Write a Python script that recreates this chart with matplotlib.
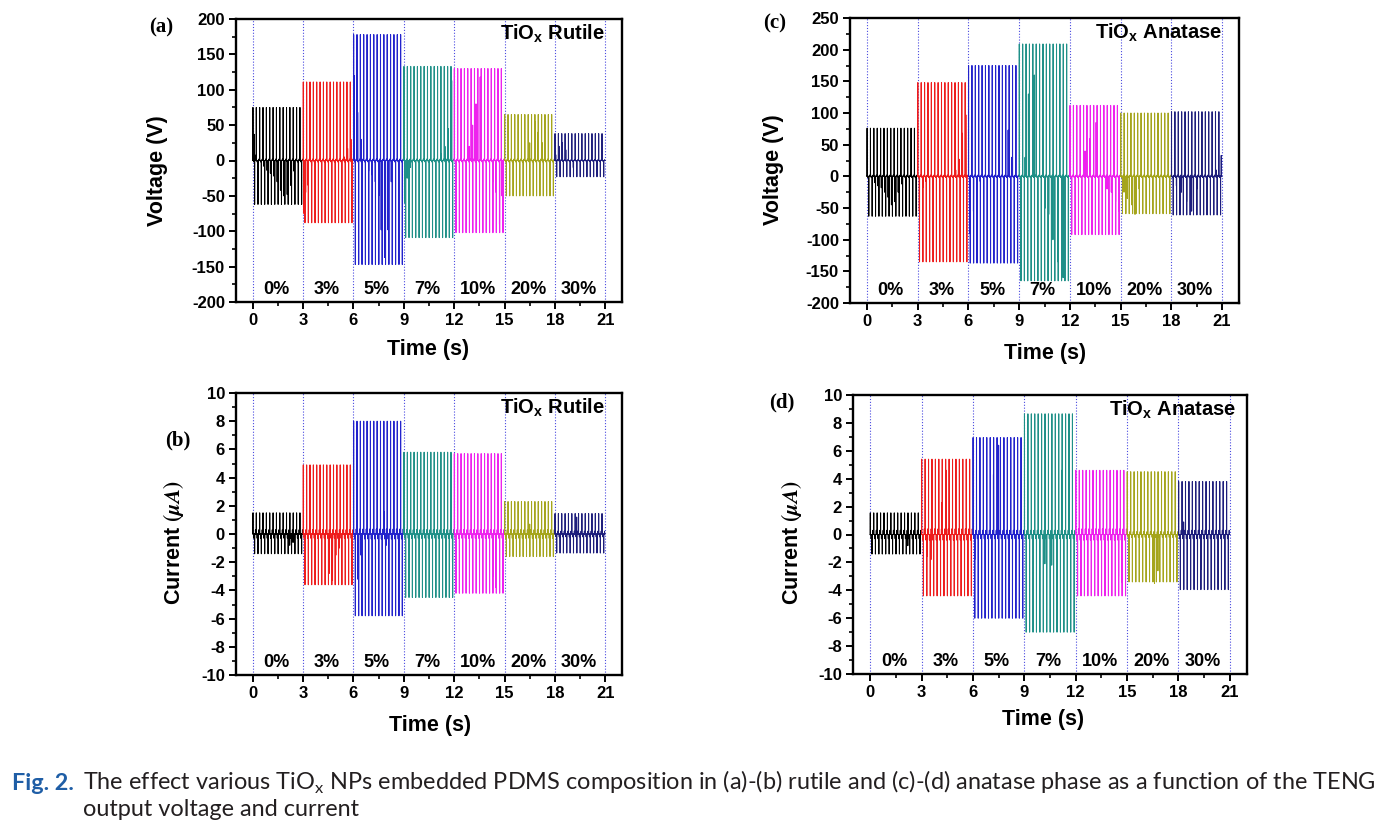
import numpy as np
import matplotlib
matplotlib.use("Agg")
import matplotlib.pyplot as plt
from matplotlib import font_manager as fm
from matplotlib.ticker import MultipleLocator
from matplotlib.transforms import blended_transform_factory

plt.rcParams['font.family'] = ['Liberation Sans', 'DejaVu Sans']
plt.rcParams['font.weight'] = 'bold'
plt.rcParams['axes.unicode_minus'] = False

# ---------------- data ----------------
compositions = ['0%', '3%', '5%', '7%', '10%', '20%', '30%']
seg_colors = ['#000000', '#ee1c1c', '#2222cc', '#1f9088', '#ee22ee', '#a5a51c', '#1e1e7c']
seg_start = [0, 3, 6, 9, 12, 15, 18]
pulses_per_seg = 15
pulse_period = 0.2
x_ticks = [0, 3, 6, 9, 12, 15, 18, 21]

# (a) rutile voltage (V): peak per segment
rut_v_pos = [75, 111, 178, 133, 130, 65, 38]
rut_v_neg = [-62, -88, -147, -109, -102, -50, -23]
rut_v_ripple = [2, 2, 2, 2, 2, 2, 1]
rut_v_extra_t = [0.08, 0.2, 0.65, 0.85, 1.05, 1.25, 1.45, 1.65, 1.85, 2.05, 2.25, 2.45,
                 3.05, 3.15, 3.3, 3.5, 5.45, 5.65, 5.85,
                 6.05, 6.25, 6.45, 6.9, 7.1, 7.3, 7.5, 7.65, 7.85, 8.05, 8.25,
                 9.05, 9.2, 9.4, 11.2, 11.45, 11.65, 11.85,
                 12.9, 13.1, 13.3, 13.55, 14.3, 14.5, 14.7, 14.85,
                 16.5, 16.8, 17.0, 17.25,
                 18.05, 18.25, 18.45, 18.65, 19.1]
rut_v_extra_v = [37, 8, -8, -14, -18, -22, -30, -42, -50, -48, -35, -15,
                 -75, -45, -35, -8, 5, 17, 30,
                 120, 68, 30, -15, -20, -30, -50, -98, -137, -98, -30,
                 -60, -25, -10, 10, 20, 45, 113,
                 20, 50, 80, 118, -30, -45, -90, -50,
                 25, 55, 40, 25,
                 8, 20, 25, 15, -10]

# (b) rutile current (uA)
rut_i_pos = [1.5, 4.9, 8.0, 5.8, 5.7, 2.3, 1.45]
rut_i_neg = [-1.4, -3.6, -5.8, -4.5, -4.2, -1.6, -1.35]
rut_i_ripple = [0.3, 0.3, 0.35, 0.3, 0.3, 0.3, 0.2]
rut_i_extra_t = [2.2, 2.4, 4.55, 4.75, 4.95, 5.15, 6.25, 6.45, 7.8, 7.95,
                 9.0, 11.9, 14.3, 14.5, 16.5, 19.3]
rut_i_extra_v = [-0.8, -0.6, -2.8, -3.3, -1.5, -1.0, -3.2, -1.5, 1.6, -0.8,
                 3.4, -2.0, -3.0, -3.8, 0.7, 1.2]

# (c) anatase voltage (V)
ana_v_pos = [76, 148, 175, 209, 112, 100, 102]
ana_v_neg = [-63, -135, -137, -165, -92, -59, -61]
ana_v_ripple = [2, 2, 2, 2, 2, 2, 2]
ana_v_extra_t = [0.45, 0.65, 0.85, 1.05, 1.25, 1.45, 1.65, 1.85, 2.05,
                 3.1, 3.3, 3.5, 5.25, 5.45, 5.65, 5.85,
                 6.1, 6.3, 6.5, 6.7, 8.35, 8.55,
                 9.35, 9.55, 9.9, 10.55, 10.75, 11.0, 11.3, 11.6,
                 12.9, 13.2, 13.55, 14.2, 14.45, 14.7, 14.9,
                 15.2, 15.4, 15.65, 15.85, 16.1,
                 18.3, 18.6, 18.9, 19.2, 19.5, 20.65, 20.95]
ana_v_extra_v = [-10, -15, -18, -25, -33, -45, -40, -25, -12,
                 -55, -18, -8, 10, 27, 68, 97,
                 -90, -55, -20, -8, 73, 30,
                 30, 130, 160, -50, -60, -100, -135, -160,
                 40, 60, 85, -20, -25, -40, -55,
                 -25, -35, -45, -60, -20,
                 -15, -25, -40, -55, -20, 10, 33]

# (d) anatase current (uA)
ana_i_pos = [1.55, 5.4, 6.95, 8.65, 4.6, 4.5, 3.8]
ana_i_neg = [-1.4, -4.4, -6.0, -7.0, -4.4, -3.4, -3.95]
ana_i_ripple = [0.3, 0.4, 0.3, 0.3, 0.4, 0.2, 0.3]
ana_i_extra_t = [2.2, 3.3, 3.55, 4.2, 4.45, 6.1, 7.2, 7.5,
                 10.2, 10.6, 11.2, 11.6, 14.5, 14.7, 16.6, 16.8, 18.3, 19.3]
ana_i_extra_v = [-0.8, -1.6, -1.8, 2.3, 4.6, -1.8, 4.3, 6.4,
                 -2.1, -2.2, 4.6, 1.6, -3.0, -3.4, -3.5, -2.6, 0.9, -2.5]


def segment_trace(i, pos, neg, ripple, ex_t, ex_v):
    s = seg_start[i]
    ev = []
    for k in range(pulses_per_seg):
        tp = s + k * pulse_period + 0.01
        ev.append((tp, pos[i]))
        ev.append((tp + 0.1, neg[i]))
        ev.append((tp + 0.05, -ripple[i]))
        ev.append((tp + 0.15, ripple[i]))
    for t, v in zip(ex_t, ex_v):
        if s <= t < s + 3:
            ev.append((t, v))
    ev.sort()
    w = 0.004
    tt = [s]
    vv = [0.0]
    for t, v in ev:
        tt += [t - w, t, t + w]
        vv += [0.0, v, 0.0]
    tt.append(s + 3)
    vv.append(0.0)
    return np.array(tt), np.array(vv)


fig = plt.figure(figsize=(13.98, 8.31), dpi=100)
W, H = 1398.0, 831.0


def px_axes(l, t, r, b):
    return fig.add_axes([l / W, 1 - b / H, (r - l) / W, (b - t) / H])


panels = [
    dict(box=(236, 19, 622, 302), pos=rut_v_pos, neg=rut_v_neg, rip=rut_v_ripple,
         et=rut_v_extra_t, evv=rut_v_extra_v, ylim=(-200, 200), maj=50, mnr=25,
         title='Rutile', tag='(a)', tagxy=(161, 27), ylab='Voltage (V)', ylabxy=(157, 171),
         xlabxy=(428, 349), tx=21.0),
    dict(box=(236, 393, 622, 675), pos=rut_i_pos, neg=rut_i_neg, rip=rut_i_ripple,
         et=rut_i_extra_t, evv=rut_i_extra_v, ylim=(-10, 10), maj=2, mnr=1,
         title='Rutile', tag='(b)', tagxy=(178, 440), ylab='cur', ylabxy=(173, 543),
         xlabxy=(430, 725), tx=21.0),
    dict(box=(850, 18, 1239, 303), pos=ana_v_pos, neg=ana_v_neg, rip=ana_v_ripple,
         et=ana_v_extra_t, evv=ana_v_extra_v, ylim=(-200, 250), maj=50, mnr=25,
         title='Anatase', tag='(c)', tagxy=(775, 23), ylab='Voltage (V)', ylabxy=(773, 170),
         xlabxy=(1045, 353), tx=21.0),
    dict(box=(853, 395, 1247, 674), pos=ana_i_pos, neg=ana_i_neg, rip=ana_i_ripple,
         et=ana_i_extra_t, evv=ana_i_extra_v, ylim=(-10, 10), maj=2, mnr=1,
         title='Anatase', tag='(d)', tagxy=(782, 402), ylab='cur', ylabxy=(792, 543),
         xlabxy=(1043, 720), tx=21.4),
]

for p in panels:
    ax = px_axes(*p['box'])
    ax.set_xlim(-1, 22)
    ax.set_ylim(*p['ylim'])
    for xv in x_ticks:
        ax.axvline(xv, color='#4a4ae0', lw=0.8, ls=(0, (1, 1.6)), zorder=0)
    for i in range(len(compositions)):
        t, v = segment_trace(i, p['pos'], p['neg'], p['rip'], p['et'], p['evv'])
        ax.plot(t, v, color=seg_colors[i], lw=0.75, zorder=2)
    tr = blended_transform_factory(ax.transData, ax.transAxes)
    for i, lab in enumerate(compositions):
        ax.text(seg_start[i] + 1.4, 0.045, lab, transform=tr, ha='center', va='center',
                fontsize=13, fontweight='bold')
    ax.text(p['tx'], 0.926, r'TiO$_\mathregular{x}$ ' + p['title'], transform=tr,
            ha='right', va='baseline', fontsize=14.5, fontweight='bold')
    ax.set_xticks(x_ticks)
    ax.xaxis.set_minor_locator(MultipleLocator(1.5))
    ax.yaxis.set_major_locator(MultipleLocator(p['maj']))
    ax.yaxis.set_minor_locator(MultipleLocator(p['mnr']))
    ax.tick_params(which='major', direction='out', length=5, width=1.4,
                   labelsize=12, pad=3, top=False, right=False)
    ax.tick_params(which='minor', direction='out', length=3, width=1.2,
                   top=False, right=False)
    for lb in ax.get_xticklabels() + ax.get_yticklabels():
        lb.set_fontweight('bold')
    for sp in ax.spines.values():
        sp.set_linewidth(1.7)
    fig.text(p['tagxy'][0] / W, 1 - p['tagxy'][1] / H, p['tag'], family='Liberation Serif',
             fontweight='bold', fontsize=15, ha='center', va='center')
    if p['ylab'] == 'cur':
        fig.text(p['ylabxy'][0] / W, 1 - p['ylabxy'][1] / H, r'Current $(\mu A)$',
                 math_fontfamily='stix', rotation=90, ha='center', va='center',
                 fontsize=15.5, fontweight='bold')
    else:
        fig.text(p['ylabxy'][0] / W, 1 - p['ylabxy'][1] / H, p['ylab'], rotation=90,
                 ha='center', va='center', fontsize=15.5, fontweight='bold')
    fig.text(p['xlabxy'][0] / W, 1 - p['xlabxy'][1] / H, 'Time (s)', ha='center',
             va='center', fontsize=15.5, fontweight='bold')

# caption
installed = {f.name for f in fm.fontManager.ttflist}
cap_name = 'Liberation Sans Narrow' if 'Liberation Sans Narrow' in installed else 'Lato'
cap_font = [cap_name, 'DejaVu Sans']
renderer = fig.canvas.get_renderer()
line1 = ('The effect various TiO$_\\mathregular{x}$ NPs embedded PDMS composition in (a)-(b) '
         'rutile and (c)-(d) anatase phase as a function of the TENG')
t1 = fig.text(12 / W, 1 - 790 / H, 'Fig. 2.', family=cap_font, fontweight='bold',
              color='#1f5ea6', fontsize=16, va='baseline', ha='left')
t2 = fig.text(83 / W, 1 - 790 / H, line1, family=cap_font, fontweight='normal',
              color='#231f20', fontsize=16, va='baseline', ha='left')
t3 = fig.text(83 / W, 1 - 816 / H, 'output voltage and current', family=cap_font,
              fontweight='normal', color='#231f20', fontsize=16, va='baseline', ha='left')
wid = t2.get_window_extent(renderer).width
fs = 16 * (1380 - 83) / wid
for t in (t2, t3):
    t.set_fontsize(fs)
wf = t1.get_window_extent(renderer).width
t1.set_fontsize(16 * (74 - 12) / wf)

fig.savefig('out.png', dpi=100)
